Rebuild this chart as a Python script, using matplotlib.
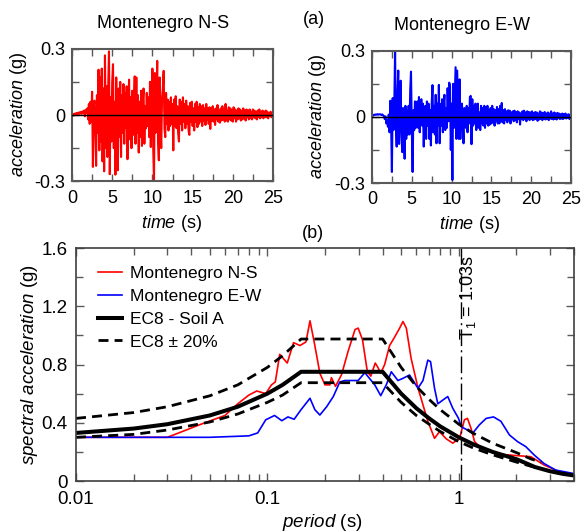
import numpy as np
import matplotlib
matplotlib.use("Agg")
import matplotlib.pyplot as plt
from matplotlib.ticker import MultipleLocator, NullFormatter, LogLocator

plt.rcParams['font.family'] = ['Liberation Sans', 'DejaVu Sans']
plt.rcParams['mathtext.fontset'] = 'custom'
plt.rcParams['mathtext.rm'] = 'Liberation Sans'
plt.rcParams['mathtext.it'] = 'Liberation Sans:italic'
plt.rcParams['axes.unicode_minus'] = False

# ground motion records, sampled every 0.1 s
dt = 0.1
acc_ns = [
    0.000, 0.004, -0.003, 0.006, 0.002, 0.008, 0.003, 0.010, 0.004, 0.012,
    0.006, 0.014, 0.005, 0.016, 0.008, 0.020, -0.006, 0.024, 0.010, 0.030,
    -0.020, 0.050, -0.040, 0.060, -0.030, 0.105, -0.235, 0.040, 0.065, -0.060,
    -0.230, 0.090, -0.080, 0.205, -0.160, 0.170, -0.120, 0.210, -0.210, 0.120,
    -0.255, 0.270, -0.150, 0.130, -0.190, 0.120, 0.288, -0.268, 0.080, -0.120,
    0.150, 0.230, -0.150, 0.060, -0.270, 0.170, -0.060, -0.250, 0.120, -0.100,
    0.150, -0.190, 0.090, -0.080, 0.140, -0.130, 0.100, -0.060, 0.130, -0.200,
    0.050, 0.160, -0.110, 0.080, -0.150, 0.110, -0.090, 0.060, 0.175, -0.130,
    0.170, -0.080, 0.090, -0.170, 0.060, -0.100, 0.110, -0.140, 0.060, 0.120,
    -0.130, 0.040, -0.060, 0.100, -0.050, 0.080, -0.100, 0.150, -0.145, 0.050,
    0.210, -0.150, -0.300, 0.190, -0.080, 0.060, 0.245, -0.120, -0.205, 0.170,
    -0.050, -0.150, 0.080, 0.120, 0.200, -0.060, -0.100, 0.100, -0.040, 0.070,
    -0.070, 0.060, -0.050, 0.080, -0.040, 0.050, -0.160, 0.070, -0.050, 0.085,
    -0.060, 0.040, -0.080, -0.120, 0.070, -0.040, 0.060, -0.070, 0.080, -0.030,
    0.050, -0.060, 0.065, -0.040, 0.040, -0.070, -0.090, 0.055, -0.030, 0.060,
    -0.050, 0.030, -0.070, 0.050, -0.030, 0.060, -0.055, 0.035, -0.040, 0.050,
    -0.030, 0.040, -0.050, 0.045, -0.025, 0.030, -0.045, 0.050, -0.020, 0.030,
    -0.040, 0.035, -0.063, 0.030, -0.025, 0.040, -0.030, 0.025, -0.045, 0.030,
    -0.020, 0.045, -0.030, 0.020, -0.035, 0.030, -0.025, 0.040, -0.020, 0.025,
    -0.030, 0.050, -0.025, 0.020, -0.030, 0.035, -0.020, 0.030, -0.025, 0.020,
    -0.030, 0.035, -0.015, 0.025, -0.030, 0.020, -0.020, 0.030, -0.015, 0.025,
    -0.025, 0.020, -0.020, 0.030, -0.015, 0.020, -0.025, 0.025, -0.010, 0.020,
    -0.020, 0.025, -0.015, 0.015, -0.020, 0.025, -0.010, 0.020, -0.015, 0.015,
    -0.020, 0.020, -0.010, 0.025, -0.015, 0.015, -0.010, 0.020, -0.015, 0.015,
    -0.010, 0.020, -0.010, 0.015, -0.015, 0.010, -0.005, 0.015, -0.010, 0.010,
    0.000,
]
acc_ew = [
    0.000, 0.006, 0.008, 0.010, 0.009, 0.011, 0.010, 0.012, 0.010, 0.011,
    0.012, 0.010, 0.008, 0.011, 0.006, 0.004, -0.010, 0.002, -0.030, -0.015,
    -0.045, 0.010, -0.070, 0.073, -0.030, -0.250, 0.085, -0.060, 0.050, 0.300,
    -0.040, -0.135, 0.100, 0.210, -0.123, 0.060, 0.164, -0.080, -0.160, 0.040,
    -0.060, -0.190, 0.050, -0.100, 0.030, -0.080, 0.050, -0.080, 0.120, 0.205,
    -0.050, -0.250, 0.030, -0.060, 0.070, -0.050, 0.020, 0.070, -0.050, 0.090,
    -0.070, 0.040, 0.080, -0.040, 0.060, -0.135, 0.020, 0.050, -0.100, 0.070,
    -0.040, 0.060, -0.100, 0.030, -0.130, 0.060, 0.144, -0.070, 0.050, -0.080,
    0.100, -0.120, 0.060, -0.040, 0.145, -0.120, 0.058, -0.040, 0.080, -0.070,
    0.050, 0.100, -0.060, 0.040, -0.050, 0.130, -0.020, 0.155, 0.140, -0.150,
    0.060, -0.286, 0.150, -0.050, 0.080, 0.225, -0.100, 0.210, 0.060, -0.100,
    0.170, -0.100, 0.040, 0.060, -0.040, -0.120, 0.040, 0.030, -0.050, 0.050,
    -0.070, 0.040, -0.030, 0.090, 0.095, -0.124, 0.080, -0.040, 0.050, -0.030,
    0.060, -0.060, 0.040, 0.060, -0.050, 0.020, -0.060, 0.050, -0.030, 0.040,
    -0.040, 0.050, -0.050, 0.045, -0.030, 0.050, -0.040, 0.030, -0.035, 0.040,
    -0.030, 0.050, -0.025, 0.035, -0.040, 0.030, -0.020, 0.045, -0.030, 0.035,
    -0.030, 0.050, -0.020, 0.063, -0.025, 0.030, -0.030, 0.035, -0.015, 0.025,
    -0.025, 0.030, -0.015, 0.028, -0.030, 0.020, -0.010, 0.025, -0.020, 0.028,
    -0.015, 0.020, -0.025, 0.025, -0.010, 0.020, -0.035, 0.015, -0.010, 0.025,
    -0.015, 0.028, -0.010, 0.020, -0.020, 0.025, -0.010, 0.022, -0.015, 0.020,
    -0.010, 0.025, -0.015, 0.018, -0.012, 0.022, -0.010, 0.020, -0.018, 0.015,
    -0.012, 0.025, -0.010, 0.020, -0.015, 0.018, -0.008, 0.022, -0.012, 0.015,
    -0.010, 0.020, -0.015, 0.015, -0.008, 0.025, -0.010, 0.015, -0.012, 0.020,
    -0.008, 0.015, -0.012, 0.018, -0.006, 0.015, -0.010, 0.012, -0.008, 0.015,
    -0.010, 0.012, -0.006, 0.015, -0.008, 0.010, -0.005, 0.012, -0.010, 0.008,
    0.000,
]

# response spectra (period in s, Sa in g)
ns_period = [0.01, 0.02, 0.03, 0.0344, 0.045, 0.06, 0.07, 0.08, 0.088, 0.098,
             0.105, 0.11, 0.116, 0.127, 0.137, 0.148, 0.159, 0.167, 0.177, 0.188,
             0.20, 0.212, 0.216, 0.227, 0.244, 0.264, 0.287, 0.298, 0.314, 0.333,
             0.347, 0.366, 0.378, 0.391, 0.41, 0.435, 0.463, 0.491, 0.511, 0.532,
             0.564, 0.612, 0.689, 0.747, 0.793, 0.859, 0.93, 1.01, 1.07, 1.11,
             1.16, 1.21, 1.31, 1.66, 2.03, 2.38, 2.79, 3.28, 3.92, 4.0]
ns_sa = [0.30, 0.30, 0.30, 0.33, 0.39, 0.45, 0.53, 0.59, 0.618, 0.60,
         0.66, 0.68, 0.87, 0.81, 0.95, 0.93, 0.955, 1.10, 0.93, 0.74,
         0.66, 0.66, 0.71, 0.65, 0.73, 0.89, 1.04, 1.05, 0.97, 0.75,
         0.72, 0.81, 0.78, 0.74, 0.80, 0.93, 0.99, 1.05, 1.095, 1.05,
         0.84, 0.64, 0.41, 0.293, 0.339, 0.29, 0.26, 0.293, 0.42, 0.43,
         0.36, 0.27, 0.225, 0.183, 0.174, 0.167, 0.11, 0.069, 0.046, 0.044]

ew_period = [0.01, 0.02, 0.05, 0.08, 0.089, 0.098, 0.109, 0.119, 0.128, 0.138,
             0.15, 0.167, 0.177, 0.188, 0.204, 0.221, 0.239, 0.254, 0.298, 0.323,
             0.336, 0.364, 0.391, 0.418, 0.444, 0.481, 0.511, 0.553, 0.612, 0.65,
             0.689, 0.712, 0.747, 0.777, 0.826, 0.876, 0.93, 0.997, 1.03, 1.11,
             1.18, 1.28, 1.39, 1.52, 1.66, 1.84, 2.03, 2.24, 2.48, 2.79,
             3.21, 3.92, 4.0]
ew_sa = [0.30, 0.30, 0.30, 0.31, 0.33, 0.42, 0.45, 0.414, 0.44, 0.424,
         0.49, 0.568, 0.49, 0.453, 0.51, 0.58, 0.68, 0.69, 0.69, 0.744,
         0.716, 0.66, 0.586, 0.66, 0.75, 0.69, 0.705, 0.728, 0.637, 0.69,
         0.83, 0.82, 0.637, 0.53, 0.556, 0.58, 0.50, 0.43, 0.373, 0.35,
         0.327, 0.385, 0.43, 0.44, 0.41, 0.316, 0.27, 0.236, 0.178, 0.12,
         0.075, 0.053, 0.05]

ec8_period = [0.01, 0.02, 0.03, 0.05, 0.07, 0.10, 0.12, 0.15, 0.40, 0.50, 0.60,
              0.70, 0.80, 1.00, 1.20, 1.50, 2.00, 2.50, 3.00, 3.50, 4.00]
ec8_sa = [0.33, 0.36, 0.39, 0.45, 0.51, 0.60, 0.66, 0.75, 0.75, 0.60, 0.50,
          0.43, 0.375, 0.30, 0.25, 0.20, 0.15, 0.096, 0.067, 0.049, 0.038]

band_period = [0.01, 0.02, 0.03, 0.05, 0.07, 0.10, 0.12, 0.15, 0.40, 0.50,
               0.60, 0.70, 0.80, 1.00, 1.20, 1.50, 2.00, 2.40, 2.70]
ec8_upper = [0.43, 0.47, 0.51, 0.585, 0.66, 0.78, 0.86, 0.975, 0.975, 0.78,
             0.65, 0.56, 0.49, 0.39, 0.325, 0.26, 0.195, 0.15, 0.13]
ec8_lower = [0.30, 0.32, 0.35, 0.405, 0.46, 0.54, 0.59, 0.675, 0.675, 0.54,
             0.45, 0.39, 0.34, 0.27, 0.225, 0.18, 0.13, 0.10, 0.085]

T1 = 1.03

fig = plt.figure(figsize=(5.81, 5.32), dpi=100)
W, H = 581.0, 532.0

def px_axes(x0, x1, ytop, ybot):
    return fig.add_axes([x0 / W, 1 - ybot / H, (x1 - x0) / W, (ybot - ytop) / H])

ax1 = px_axes(72, 273, 48.7, 181.3)
ax2 = px_axes(372, 571, 50.7, 183)
ax3 = px_axes(76, 574, 248, 481)

frame_col = '0.35'

for ax, acc, col in [(ax1, acc_ns, 'red'), (ax2, acc_ew, 'blue')]:
    t = np.arange(len(acc)) * dt
    ax.plot(t, acc, color=col, lw=1.5)
    ax.axhline(0, color='black', lw=1.0, zorder=3)
    ax.set_xlim(0, 25)
    ax.set_ylim(-0.3, 0.3)
    ax.xaxis.set_major_locator(MultipleLocator(5))
    ax.xaxis.set_minor_locator(MultipleLocator(2.5))
    ax.set_yticks([-0.3, 0, 0.3])
    ax.set_yticklabels(['-0.3', '0', '0.3'])
    ax.yaxis.set_minor_locator(MultipleLocator(0.15))
    ax.tick_params(which='both', direction='in', top=True, right=True,
                   labelsize=13, color=frame_col, width=1.0)
    ax.tick_params(which='major', length=5)
    ax.tick_params(which='minor', length=5)
    ax.tick_params(axis='x', pad=6)
    ax.tick_params(axis='y', pad=5)
    for s in ax.spines.values():
        s.set_color(frame_col)
        s.set_linewidth(1.5)
    ax.set_xlabel(r'$\mathit{time}$ (s)', fontsize=13)
    ax.set_ylabel(r'$\mathit{acceleration}$ (g)', fontsize=13)

ax1.xaxis.set_label_coords(0.496, -0.24)
ax2.xaxis.set_label_coords(0.49, -0.237)
ax1.yaxis.set_label_coords(-0.212, 0.5)
ax2.yaxis.set_label_coords(-0.22, 0.5)

fig.text(163 / W, 1 - 24 / H, 'Montenegro N-S', fontsize=13, ha='center', va='center')
fig.text(462 / W, 1 - 26 / H, 'Montenegro E-W', fontsize=13, ha='center', va='center')
fig.text(314 / W, 1 - 20 / H, '(a)', fontsize=13, ha='center', va='center')
fig.text(313 / W, 1 - 233 / H, '(b)', fontsize=13, ha='center', va='center')

# spectra
ax3.plot(ns_period, ns_sa, color='red', lw=1.2, label='Montenegro N-S')
ax3.plot(ew_period, ew_sa, color='blue', lw=1.2, label='Montenegro E-W')
ax3.plot(ec8_period, ec8_sa, color='black', lw=2.9, label='EC8 - Soil A')
ax3.plot(band_period, ec8_upper, color='black', lw=2.0, ls=(0, (3.6, 2.2)),
         label='EC8 ± 20%')
ax3.plot(band_period, ec8_lower, color='black', lw=2.0, ls=(0, (3.6, 2.2)))
ax3.axvline(T1, color='black', lw=1.0, ls=(0, (12, 3, 1.5, 3)))
ax3.text(1.12, 0.97, r'T$_1$ = 1.03s', rotation=90, fontsize=13,
         ha='center', va='bottom')

ax3.set_xscale('log')
ax3.set_xlim(0.01, 4)
ax3.set_ylim(0, 1.6)
ax3.set_xticks([0.01, 0.1, 1])
ax3.set_xticklabels(['0.01', '0.1', '1'])
ax3.xaxis.set_minor_locator(LogLocator(base=10, subs=np.arange(2, 10)))
ax3.xaxis.set_minor_formatter(NullFormatter())
ax3.set_yticks([0, 0.4, 0.8, 1.2, 1.6])
ax3.set_yticklabels(['0', '0.4', '0.8', '1.2', '1.6'])
ax3.yaxis.set_minor_locator(MultipleLocator(0.2))
ax3.tick_params(which='both', direction='in', top=True, right=True,
                labelsize=13.5, color=frame_col, width=1.0)
ax3.tick_params(which='major', length=6)
ax3.tick_params(which='minor', length=5)
ax3.tick_params(axis='x', pad=7)
ax3.tick_params(axis='y', pad=6)
for s in ax3.spines.values():
    s.set_color('0.25')
    s.set_linewidth(1.2)
ax3.set_xlabel(r'$\mathit{period}$ (s)', fontsize=13.5)
ax3.set_ylabel(r'$\mathit{spectral\ acceleration}$ (g)', fontsize=13.5)
ax3.xaxis.set_label_coords(0.494, -0.133)
ax3.yaxis.set_label_coords(-0.072, 0.5)

ax3.legend(loc='upper left', bbox_to_anchor=(98 / W, 1 - 266 / H),
           bbox_transform=fig.transFigure, frameon=False, fontsize=12.5,
           handlelength=1.4, handletextpad=0.46, labelspacing=0.44,
           borderpad=0, borderaxespad=0)

fig.savefig('out.png', dpi=100)
